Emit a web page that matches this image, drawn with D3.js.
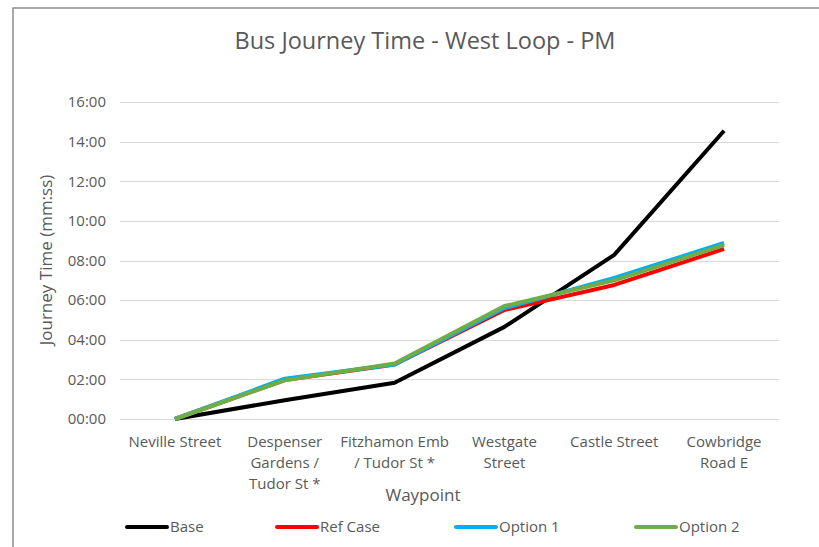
<!DOCTYPE html>
<html>
<head>
<meta charset="utf-8">
<script src="https://cdn.jsdelivr.net/npm/d3@7"></script>
<style>
  body { margin: 0; background: #fff; }
  text { font-family: "Open Sans", Arial, sans-serif; }
</style>
</head>
<body>
<div id="chart"></div>
<script>
// waypoints along the route
const waypoints = [
  ["Neville Street"],
  ["Despenser", "Gardens /", "Tudor St *"],
  ["Fitzhamon Emb", "/ Tudor St *"],
  ["Westgate", "Street"],
  ["Castle Street"],
  ["Cowbridge", "Road E"]
];

// cumulative journey time in seconds
const base    = [0, 57, 110, 279, 497, 873];
const refCase = [0, 118, 165, 330, 406, 515];
const option1 = [0, 122, 165, 336, 427, 533];
const option2 = [0, 117, 168, 342, 420, 527];

const seriesNames = ["Base", "Ref Case", "Option 1", "Option 2"];
const seriesColors = ["#000000", "#ff0000", "#00b0f0", "#70ad47"];
const yTicks = [0, 120, 240, 360, 480, 600, 720, 840, 960];

const width = 819, height = 547;
const margin = {top: 102, left: 120, right: 40, bottom: 128};

const svg = d3.select("#chart").append("svg")
  .attr("width", width)
  .attr("height", height);

// chart border (only top and left visible)
svg.append("rect")
  .attr("x", 13).attr("y", 8)
  .attr("width", 900).attr("height", 700)
  .attr("fill", "#fff")
  .attr("stroke", "#8c8c8c")
  .attr("stroke-width", 1.5);

const x = d3.scaleBand()
  .domain(d3.range(waypoints.length))
  .range([margin.left, width - margin.right]);

const y = d3.scaleLinear()
  .domain([0, 960])
  .range([height - margin.bottom, margin.top]);

const fmt = s => d3.format("02")(Math.floor(s / 60)) + ":" + d3.format("02")(s % 60);

// gridlines
svg.append("g")
  .selectAll("line")
  .data(yTicks)
  .enter()
  .append("line")
  .attr("x1", margin.left)
  .attr("x2", width - margin.right)
  .attr("y1", d => Math.round(y(d)) + 0.5)
  .attr("y2", d => Math.round(y(d)) + 0.5)
  .attr("stroke", "#d9d9d9")
  .attr("stroke-width", 1.2);

// y axis labels
const yAxis = svg.append("g")
  .attr("transform", "translate(" + margin.left + ",0)")
  .call(d3.axisLeft(y).tickValues(yTicks).tickFormat(fmt).tickSize(0).tickPadding(14));
yAxis.select(".domain").remove();
yAxis.selectAll("text")
  .attr("fill", "#595959")
  .attr("font-size", "15px")
  .style("font-family", "'Open Sans', Arial, sans-serif");

// x axis labels (multi line)
const xl = svg.append("g")
  .selectAll("text")
  .data(waypoints)
  .enter()
  .append("text")
  .attr("x", (d, i) => x(i) + x.bandwidth() / 2)
  .attr("y", 447)
  .attr("text-anchor", "middle")
  .attr("fill", "#595959")
  .attr("font-size", "15px");
xl.selectAll("tspan")
  .data(d => d)
  .enter()
  .append("tspan")
  .attr("x", function() { return d3.select(this.parentNode).attr("x"); })
  .attr("dy", (d, i) => i === 0 ? 0 : 21)
  .text(d => d);

// axis titles
svg.append("text")
  .attr("x", 423).attr("y", 501)
  .attr("text-anchor", "middle")
  .attr("fill", "#595959")
  .attr("font-size", "17px")
  .text("Waypoint");

svg.append("text")
  .attr("transform", "translate(52,260) rotate(-90)")
  .attr("text-anchor", "middle")
  .attr("fill", "#595959")
  .attr("font-size", "17px")
  .text("Journey Time (mm:ss)");

svg.append("text")
  .attr("x", 425).attr("y", 49)
  .attr("text-anchor", "middle")
  .attr("fill", "#595959")
  .attr("font-size", "23.5px")
  .text("Bus Journey Time - West Loop - PM");

// lines
const series = [base, refCase, option1, option2];
const line = d3.line()
  .x((d, i) => x(i) + x.bandwidth() / 2)
  .y(d => y(d));

svg.append("g")
  .selectAll("path")
  .data(series)
  .enter()
  .append("path")
  .attr("d", line)
  .attr("fill", "none")
  .attr("stroke", (d, i) => seriesColors[i])
  .attr("stroke-width", 4)
  .attr("stroke-linejoin", "round");

// legend
const legendX = [127, 277, 456, 636];
const lg = svg.append("g")
  .selectAll("g")
  .data(seriesNames)
  .enter()
  .append("g")
  .attr("transform", (d, i) => "translate(" + legendX[i] + ",527)");
lg.append("line")
  .attr("x1", 0).attr("x2", 40)
  .attr("stroke", (d, i) => seriesColors[i])
  .attr("stroke-width", 4)
  .attr("stroke-linecap", "round");
lg.append("text")
  .attr("x", 43).attr("y", 5)
  .attr("fill", "#595959")
  .attr("font-size", "15px")
  .text(d => d);
</script>
</body>
</html>
